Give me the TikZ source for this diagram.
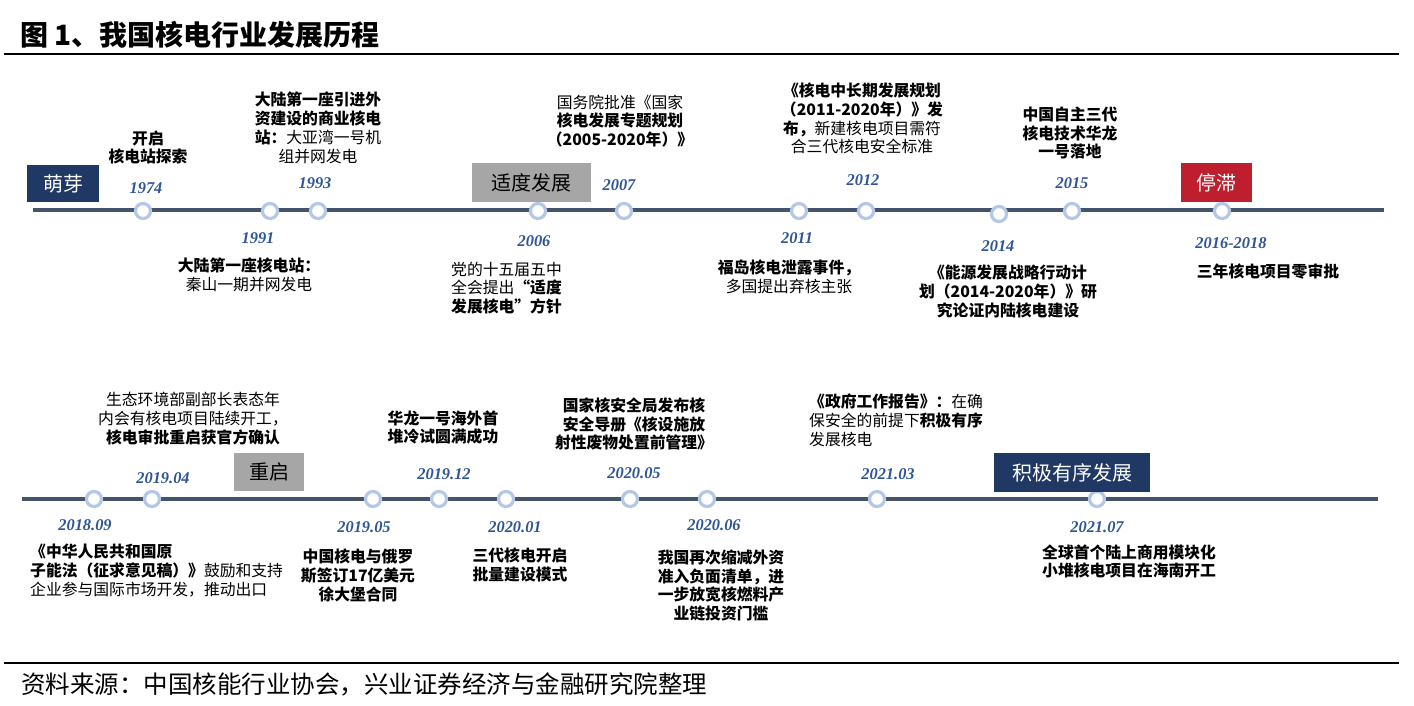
\documentclass[tikz,border=0pt]{standalone}
\usepackage{fontspec}
\setmainfont{Noto Sans CJK SC}
\newfontfamily\yearfont{Liberation Serif}

\definecolor{navy}{HTML}{1F3864}
\definecolor{phasegray}{HTML}{A6A6A6}
\definecolor{phasered}{HTML}{BE1E2D}
\definecolor{slate}{HTML}{44546A}
\definecolor{dotblue}{HTML}{B4C7E7}
\definecolor{yearblue}{HTML}{2F5597}

\tikzset{
    rule/.style={line width=1.3pt, black},
    tline/.style={line width=4.5pt, slate},
    dot/.style={circle, draw=dotblue, line width=3.2pt, fill=white, minimum size=15pt, inner sep=0pt},
    year/.style={text=yearblue, inner sep=0pt, font=\yearfont\bfseries\itshape\fontsize{16.4}{18}\selectfont},
    event/.style={align=center, inner sep=0pt, font=\fontsize{15.8}{18.8}\selectfont},
    bevent/.style={event, font=\bfseries\fontsize{15.8}{18.8}\selectfont},
    phase/.style={inner sep=0pt, minimum height=38pt, font=\fontsize{20}{24}\selectfont}
}

\begin{document}
\begin{tikzpicture}[x=1pt,y=-1pt]
    \useasboundingbox (0,0) rectangle (1414,705);

    % Title and source
    \node[anchor=west, inner sep=0pt, font=\bfseries\fontsize{28}{32}\selectfont] (title) at (20,35) {图 1、我国核电行业发展历程};
    \draw[rule] (4,54) -- (1399,54);
    \draw[rule] (4,663) -- (1399,663);
    \node[anchor=west, inner sep=0pt, font=\fontsize{24.5}{28}\selectfont] (source) at (21,684) {资料来源：中国核能行业协会，兴业证券经济与金融研究院整理};

    % Upper time line
    \coordinate (top-start) at (33,210);
    \coordinate (top-end) at (1384,210);
    \draw[tline] (top-start) -- (top-end);

    \node[dot] (d1974) at (143,211) {};
    \node[dot] (d1991) at (270,211) {};
    \node[dot] (d1993) at (318,211) {};
    \node[dot] (d2006) at (538,211) {};
    \node[dot] (d2007) at (624,211) {};
    \node[dot] (d2011) at (799,211) {};
    \node[dot] (d2012) at (866,211) {};
    \node[dot] (d2014) at (999,214) {};
    \node[dot] (d2015) at (1072,211) {};
    \node[dot] (d2016) at (1222,211) {};

    % Phases
    \node[phase, fill=navy, text=white, minimum width=72pt, minimum height=37pt] (mengya) at (63,183.5) {萌芽};
    \node[phase, fill=phasegray, minimum width=119pt, minimum height=39pt] (shidu) at (531.5,182.5) {适度发展};
    \node[phase, fill=phasered, text=white, minimum width=71pt, minimum height=39pt] (tingzhi) at (1216.5,182.5) {停滞};

    % Years
    \node[year] (y1974) at (146,188) {1974};
    \node[year] (y1993) at (315,183) {1993};
    \node[year] (y2007) at (619,185) {2007};
    \node[year] (y2012) at (863,180) {2012};
    \node[year] (y2015) at (1072,183) {2015};
    \node[year] (y1991) at (258,238) {1991};
    \node[year] (y2006) at (534,241) {2006};
    \node[year] (y2011) at (797,238) {2011};
    \node[year] (y2014) at (998,246) {2014};
    \node[year] (y2016) at (1231,243) {2016-2018};

    % Events
    \node[bevent] (t1974) at (148,147.5) {开启\\核电站探索};
    \node[event] (t1993) at (318,128) {\textbf{大陆第一座引进外}\\\textbf{资建设的商业核电}\\\textbf{站：}大亚湾一号机\\组并网发电};
    \node[event] (t2007) at (620,121) {国务院批准《国家\\\textbf{核电发展专题规划}\\\textbf{（2005-2020年）》}};
    \node[event] (t2012) at (862,118.5) {\textbf{《核电中长期发展规划}\\\textbf{（2011-2020年）》发}\\\textbf{布，}新建核电项目需符\\合三代核电安全标准};
    \node[bevent] (t2015) at (1070,133) {中国自主三代\\核电技术华龙\\一号落地};
    \node[event] (t1991) at (249,274.5) {\textbf{大陆第一座核电站：}\\秦山一期并网发电};
    \node[event, align=left, anchor=west] (t2006) at (451,288) {党的十五届五中\\全会提出\textbf{“适度}\\\textbf{发展核电”方针}};
    \node[event] (t2011) at (789,276.5) {\textbf{福岛核电泄露事件，}\\多国提出弃核主张};
    \node[bevent] (t2014) at (1008,291.5) {《能源发展战略行动计\\划（2014-2020年）》研\\究论证内陆核电建设};
    \node[bevent] (t2016) at (1268,272) {三年核电项目零审批};

    % Lower time line
    \coordinate (low-start) at (22,499);
    \coordinate (low-end) at (1378,499);
    \draw[tline] (low-start) -- (low-end);

    \node[dot] (d201809) at (94,499) {};
    \node[dot] (d201904) at (152,499) {};
    \node[dot] (d201905) at (373,499) {};
    \node[dot] (d201912) at (439,499) {};
    \node[dot] (d202001) at (506,499) {};
    \node[dot] (d202005) at (630,499) {};
    \node[dot] (d202006) at (707,499) {};
    \node[dot] (d202103) at (877,499) {};
    \node[dot] (d202107) at (1097,499) {};

    % Phases
    \node[phase, fill=phasegray, minimum width=70pt] (chongqi) at (269,472) {重启};
    \node[phase, fill=navy, text=white, minimum width=156pt, minimum height=39pt] (jiji) at (1072,472.5) {积极有序发展};

    % Years
    \node[year] (y201904) at (163,478) {2019.04};
    \node[year] (y201912) at (444,474) {2019.12};
    \node[year] (y202005) at (634,473) {2020.05};
    \node[year] (y202103) at (888,474) {2021.03};
    \node[year] (y201809) at (85,525) {2018.09};
    \node[year] (y201905) at (364,527) {2019.05};
    \node[year] (y202001) at (515,527) {2020.01};
    \node[year] (y202006) at (714,525) {2020.06};
    \node[year] (y202107) at (1097,527) {2021.07};

    % Events
    \node[event] (t201904) at (193,418.5) {生态环境部副部长表态年\\内会有核电项目陆续开工，\\\textbf{核电审批重启获官方确认}};
    \node[bevent] (t201912) at (443,427.5) {华龙一号海外首\\堆冷试圆满成功};
    \node[bevent] (t202005) at (634,424) {国家核安全局发布核\\安全导册《核设施放\\射性废物处置前管理》};
    \node[event, align=left, anchor=west] (t202103) at (809,420.5) {\textbf{《政府工作报告》：}在确\\保安全的前提下\textbf{积极有序}\\发展核电};
    \node[event, align=left, anchor=west] (t201809) at (30,570.5) {\textbf{《中华人民共和国原}\\\textbf{子能法（征求意见稿）》}鼓励和支持\\企业参与国际市场开发，推动出口};
    \node[bevent] (t201905) at (358,575.5) {中国核电与俄罗\\斯签订17亿美元\\徐大堡合同};
    \node[bevent] (t202001) at (520,564.5) {三代核电开启\\批量建设模式};
    \node[bevent] (t202006) at (721,585.5) {我国再次缩减外资\\准入负面清单，进\\一步放宽核燃料产\\业链投资门槛};
    \node[bevent, align=left, anchor=west] (t202107) at (1042,561.5) {全球首个陆上商用模块化\\小堆核电项目在海南开工};

\end{tikzpicture}
\end{document}
